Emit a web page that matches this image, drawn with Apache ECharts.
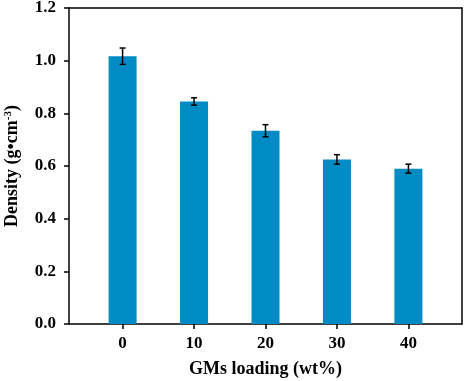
<!DOCTYPE html>
<html>
<head>
<meta charset="utf-8">
<script src="https://cdn.jsdelivr.net/npm/echarts@6/dist/echarts.min.js"></script>
<style>
  html, body { margin: 0; padding: 0; background: #fff; }
  #chart { width: 464px; height: 381px; }
</style>
</head>
<body>
<div id="chart"></div>
<script>
// GMs loading (wt%) and measured density with std. deviation
const loadings = [0, 10, 20, 30, 40];
const density = [1.017, 0.845, 0.734, 0.625, 0.590];
const densityErr = [0.031, 0.014, 0.023, 0.018, 0.017];

const font = 'Liberation Serif';
const black = '#000';

const chart = echarts.init(document.getElementById('chart'));

// plain frame axes for the top and right sides of the box
const frameAxis = {
  axisLine: { show: true, onZero: false, lineStyle: { color: black, width: 1.5 } },
  axisTick: { show: false },
  axisLabel: { show: false },
  splitLine: { show: false }
};

const option = {
  animation: false,
  grid: { left: 69, right: 2, top: 8, bottom: 57, containLabel: false, outerBoundsMode: 'none' },
  xAxis: [
    {
      type: 'value',
      min: -7.5, max: 47.5,
      name: 'GMs loading (wt%)',
      nameLocation: 'middle',
      nameGap: 36,
      nameTextStyle: { fontFamily: font, fontWeight: 'bold', fontSize: 18, color: black },
      axisLine: { show: true, onZero: false, lineStyle: { color: black, width: 1.5 } },
      axisTick: { show: true, inside: false, length: 5, customValues: loadings, lineStyle: { color: black, width: 1.5 } },
      axisLabel: { customValues: loadings, margin: 11, fontFamily: font, fontWeight: 'bold', fontSize: 17, color: black },
      splitLine: { show: false }
    },
    Object.assign({ type: 'value', position: 'top', min: -7.5, max: 47.5 }, frameAxis)
  ],
  yAxis: [
    {
      type: 'value',
      min: 0, max: 1.2, interval: 0.2,
      name: '{a|Density (g•cm}{s|-3}{a|)}',
      nameLocation: 'middle',
      nameGap: 47,
      nameTextStyle: {
        rich: {
          a: { fontFamily: font, fontWeight: 'bold', fontSize: 18, color: black },
          s: { fontFamily: font, fontWeight: 'bold', fontSize: 11, color: black, verticalAlign: 'top', padding: [0, 0, 8, 0] }
        }
      },
      axisLine: { show: true, onZero: false, lineStyle: { color: black, width: 1.5 } },
      axisTick: { show: true, inside: false, length: 5, lineStyle: { color: black, width: 1.5 } },
      axisLabel: {
        margin: 13, fontFamily: font, fontWeight: 'bold', fontSize: 17, color: black,
        formatter: v => v.toFixed(1)
      },
      splitLine: { show: false }
    },
    Object.assign({ type: 'value', position: 'right', min: 0, max: 1.2 }, frameAxis)
  ],
  series: [
    {
      type: 'bar',
      data: loadings.map((x, i) => [x, density[i]]),
      barWidth: 28,
      itemStyle: { color: '#008bc5' }
    },
    {
      type: 'custom',
      encode: { x: 0, y: [1, 2] },
      data: loadings.map((x, i) => [x, density[i] - densityErr[i], density[i] + densityErr[i]]),
      renderItem: function (params, api) {
        const x = api.value(0);
        const lo = api.coord([x, api.value(1)]);
        const hi = api.coord([x, api.value(2)]);
        const w = 3;
        const st = () => ({ stroke: black, lineWidth: 1.5 });
        return {
          type: 'group',
          children: [
            { type: 'line', shape: { x1: hi[0], y1: hi[1], x2: lo[0], y2: lo[1] }, style: st() },
            { type: 'line', shape: { x1: hi[0] - w, y1: hi[1], x2: hi[0] + w, y2: hi[1] }, style: st() },
            { type: 'line', shape: { x1: lo[0] - w, y1: lo[1], x2: lo[0] + w, y2: lo[1] }, style: st() }
          ]
        };
      },
      z: 10
    }
  ]
};

chart.setOption(option);
</script>
</body>
</html>
